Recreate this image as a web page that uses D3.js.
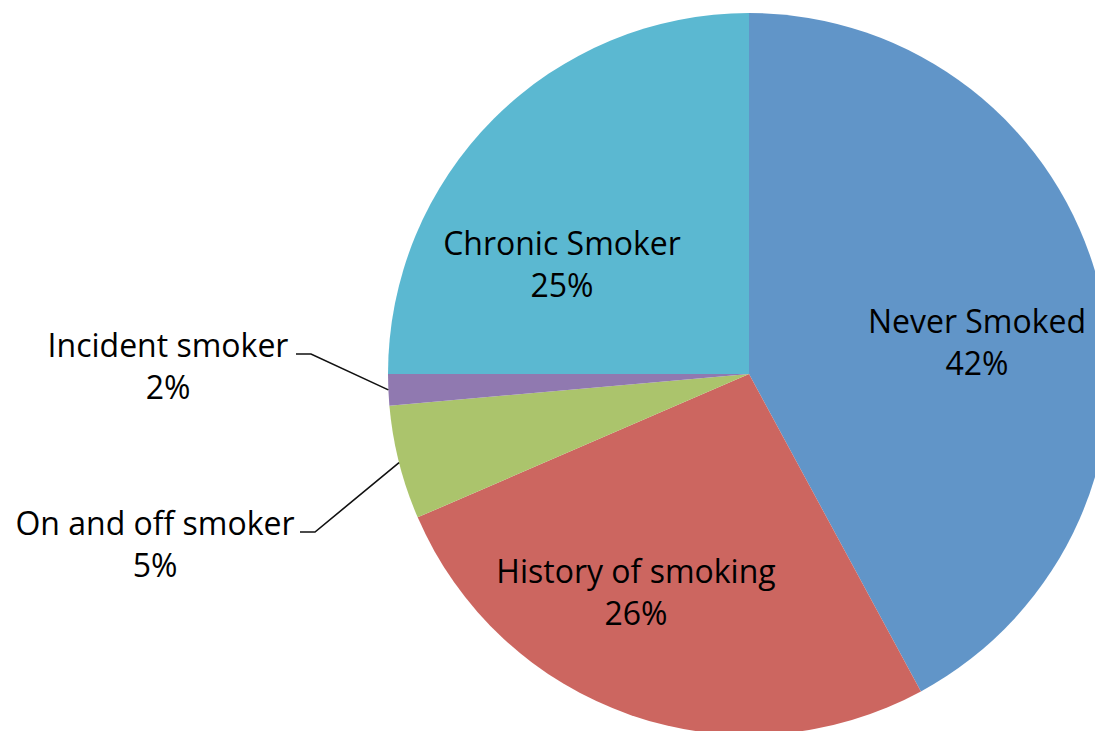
<!DOCTYPE html>
<html><head><meta charset="utf-8">
<script src="https://cdn.jsdelivr.net/npm/d3@7"></script>
<style>html,body{margin:0;padding:0;background:#fff;}svg{display:block;}</style>
</head><body>
<svg id="chart" width="1095" height="731"></svg>
<script>
const categories = ["Never Smoked", "History of smoking", "On and off smoker", "Incident smoker", "Chronic Smoker"];
const values = [42.1, 26.4, 5.1, 1.4, 25.0];
const percentLabels = ["42%", "26%", "5%", "2%", "25%"];
const colors = ["#6195C8", "#CC6660", "#ABC46C", "#9079B0", "#5BB8D1"];

const svg = d3.select("#chart");
const cx = 749, cy = 374, R = 361;
const g = svg.append("g").attr("transform", `translate(${cx},${cy})`);

const pie = d3.pie().sort(null).value(d => d.v);
const data = pie(categories.map((c, i) => ({c, v: values[i], p: percentLabels[i], col: colors[i]})));
const arc = d3.arc().innerRadius(0).outerRadius(R);

g.selectAll("path.slice").data(data).join("path")
  .attr("class", "slice")
  .attr("d", arc)
  .attr("fill", d => d.data.col);

// label placement (layout, not data)
const labelPos = {
  "Never Smoked": {x: 977, y: 333, inside: true},
  "History of smoking": {x: 636, y: 583, inside: true},
  "Chronic Smoker": {x: 562, y: 255, inside: true},
  "Incident smoker": {x: 168, y: 357, lx: 296, bend: 311},
  "On and off smoker": {x: 155, y: 535, lx: 300, bend: 315}
};
const lineH = 42;
const font = "'Open Sans', Lato, sans-serif";

data.forEach(d => {
  const L = labelPos[d.data.c];
  const t = svg.append("text")
    .attr("text-anchor", "middle")
    .attr("font-family", font)
    .attr("font-size", 32)
    .attr("fill", "#000");
  t.append("tspan").attr("x", L.x).attr("y", L.y).text(d.data.c);
  t.append("tspan").attr("x", L.x).attr("y", L.y + lineH).text(d.data.p);
  if (!L.inside) {
    const mid = (d.startAngle + d.endAngle) / 2;
    const ex = cx + R * Math.sin(mid), ey = cy - R * Math.cos(mid);
    const ly = L.y - 3;
    svg.append("polyline")
      .attr("points", `${L.lx},${ly} ${L.bend},${ly} ${ex},${ey}`)
      .attr("fill", "none")
      .attr("stroke", "#111")
      .attr("stroke-width", 1.6);
  }
});
</script>
</body></html>
